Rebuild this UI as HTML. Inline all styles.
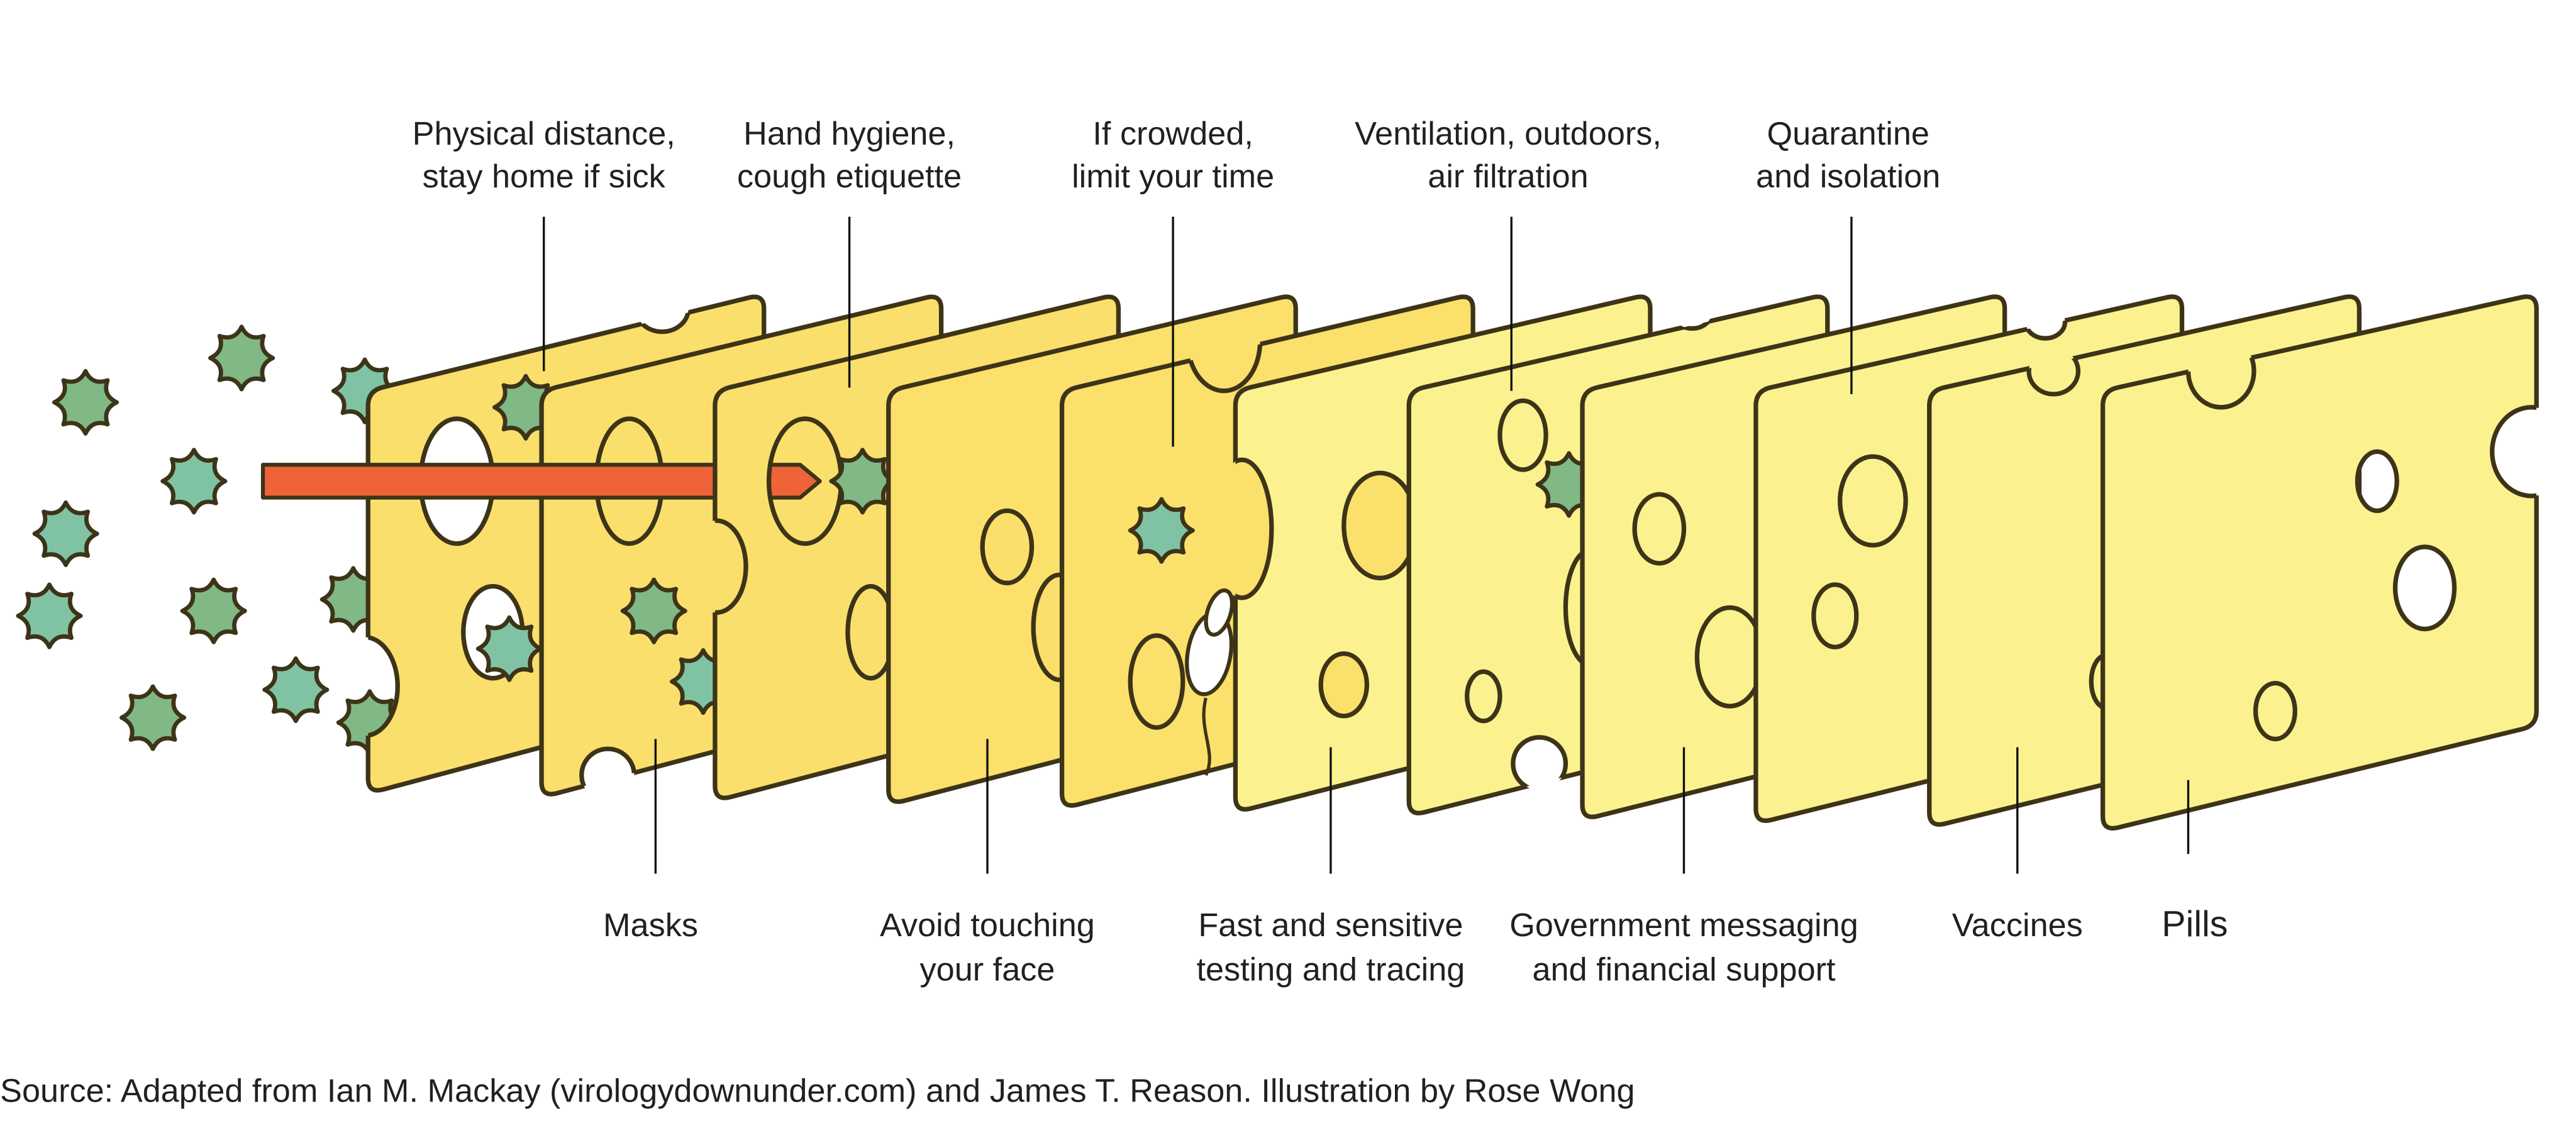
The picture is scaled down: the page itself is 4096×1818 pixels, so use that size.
<!DOCTYPE html>
<html><head><meta charset="utf-8"><style>
html,body{margin:0;padding:0;background:#fff;width:4096px;height:1818px;overflow:hidden}
svg{display:block}
text{font-family:"Liberation Sans",sans-serif;fill:#231f20;font-size:20px}
</style></head><body>
<svg id="s" xmlns="http://www.w3.org/2000/svg" width="4096" height="1818" viewBox="0 0 1568 696">
<defs id="d"></defs>
<g id="g"></g>
<g id="t">
<g text-anchor="middle">
<text x="331" y="88">Physical distance,</text><text x="331" y="114">stay home if sick</text>
<text x="517" y="88">Hand hygiene,</text><text x="517" y="114">cough etiquette</text>
<text x="714" y="88">If crowded,</text><text x="714" y="114">limit your time</text>
<text x="918" y="88">Ventilation, outdoors,</text><text x="918" y="114">air filtration</text>
<text x="1125" y="88">Quarantine</text><text x="1125" y="114">and isolation</text>
<text x="396" y="570">Masks</text>
<text x="601" y="570">Avoid touching</text><text x="601" y="597">your face</text>
<text x="810" y="570">Fast and sensitive</text><text x="810" y="597">testing and tracing</text>
<text x="1025" y="570">Government messaging</text><text x="1025" y="597">and financial support</text>
<text x="1228" y="570">Vaccines</text>
<text x="1336" y="570" style="font-size:22px">Pills</text>
</g>
<text x="0" y="671">Source: Adapted from Ian M. Mackay (virologydownunder.com) and James T. Reason. Illustration by Rose Wong</text>
<g stroke="#111" stroke-width="1.3">
<line x1="331" y1="132" x2="331" y2="226"/><line x1="517" y1="132" x2="517" y2="236"/>
<line x1="714" y1="132" x2="714" y2="272"/><line x1="920" y1="132" x2="920" y2="238"/>
<line x1="1127" y1="132" x2="1127" y2="240"/>
<line x1="399" y1="450" x2="399" y2="532"/><line x1="601" y1="450" x2="601" y2="532"/>
<line x1="810" y1="455" x2="810" y2="532"/><line x1="1025" y1="455" x2="1025" y2="532"/>
<line x1="1228" y1="455" x2="1228" y2="532"/><line x1="1332" y1="475" x2="1332" y2="520"/>
</g></g>
</svg>
<script>
const NS="http://www.w3.org/2000/svg",D=document.getElementById('d'),G=document.getElementById('g');
const SK="#3d3418";
function el(t,a,p){const e=document.createElementNS(NS,t);for(const k in a)e.setAttribute(k,a[k]);(p||G).appendChild(e);return e;}
function star(cx,cy,fill,p){let d="";const P=(a,r)=>(cx+r*Math.cos(a)).toFixed(1)+","+(cy+r*Math.sin(a)).toFixed(1);
 for(let i=0;i<8;i++){const a=i*Math.PI/4-Math.PI/2,b=a+Math.PI/8,c=a+Math.PI/4;
  if(!i)d+="M"+P(a,19);d+=" Q"+P(b,11)+" "+P(c,19);}
 el('path',{d:d+"Z",fill:fill,stroke:SK,'stroke-width':2.6,'stroke-linejoin':'round'},p);}
const GR="#80b886",TE="#7fc3a4";
const slices=[
 {c:"#fadf6c",h:[[278,293,22,38],[300,385,18,28],[222,418,20,30],[403,188,16,14]]},
 {c:"#fadf6c",h:[[383,293,20,38],[370,472,16,16]]},
 {c:"#fadf6c",h:[[490,293,22,38],[436,345,18,28],[530,385,14,28]]},
 {c:"#fbe06c",h:[[613,333,15,22],[645,382,16,32]]},
 {c:"#fbe06b",h:[[745,208,22,30],[704,415,16,28]]},
 {c:"#fbf28f",h:[[840,320,22,32],[818,417,14,19],[756,322,18,42]]},
 {c:"#fbf28f",h:[[927,265,14,21],[903,424,10,15],[937,465,16,16],[1030,190,12,10],[968,370,15,35]]},
 {c:"#fbf28f",h:[[1010,322,15,21],[1053,400,20,30]]},
 {c:"#fbf28f",h:[[1140,305,20,27],[1117,375,13,19],[1245,196,12,10]]},
 {c:"#fbf28f",h:[[1250,226,15,14],[1282,415,9,16]]},
 {c:"#fbf28f",h:[[1352,226,20,22],[1541,275,24,27],[1447,293,12,18],[1476,358,18,25],[1385,433,12,17]]}
];
const layers={"-1":[],0:[],1:[],2:[],4:[],6:[]};
[[147,218,GR],[52,245,GR],[118,293,TE],[40,325,TE],[130,372,GR],[30,375,TE],[93,437,GR],[180,420,TE],[222,238,TE],[215,365,GR],[225,440,GR]].forEach(v=>layers[-1].push(v));
layers[0].push([320,248,GR],[310,395,TE]);
layers[1].push([398,372,GR],[428,415,TE],"arrow");
layers[2].push([525,293,GR]);
layers[4].push([707,323,TE],"mouse");
layers[6].push([955,295,GR]);
function drawLayer(k){(layers[k]||[]).forEach(v=>{
 if(v==="arrow"){el('path',{d:"M160,283 L487,283 L499,293 L487,303 L160,303 Z",fill:"#ee6338",stroke:SK,'stroke-width':2.4,'stroke-linejoin':'round'});}
 else if(v==="mouse"){el('path',{d:"M734,425 C729,445 741,458 734,472",fill:"none",stroke:SK,'stroke-width':2});
  el('ellipse',{cx:736,cy:398,rx:13,ry:25,fill:"#fff",stroke:SK,'stroke-width':2.4,transform:"rotate(10 736 398)"});
  el('ellipse',{cx:742,cy:373,rx:7,ry:14,fill:"#fff",stroke:SK,'stroke-width':2.4,transform:"rotate(18 742 373)"});}
 else star(v[0],v[1],v[2]);});}
drawLayer(-1);
slices.forEach((s,i)=>{
 const L=224+i*105.6,W=241+i*2.3,R=L+W,T1=238,T2=179,B1=483+i*2.3,B2=B1-64,r=9,sl=(T1-T2)/W;
 const d=`M${L},${T1+r} Q${L},${T1} ${L+r},${T1-sl*r} L${R-r},${T2+sl*r} Q${R},${T2} ${R},${T2+r} L${R},${B2-r} Q${R},${B2} ${R-r},${B2+sl*r} L${L+r},${B1-sl*r} Q${L},${B1} ${L},${B1-r} Z`;
 const cp=el('clipPath',{id:'c'+i},D);el('path',{d:d},cp);
 const m=el('mask',{id:'m'+i,maskUnits:'userSpaceOnUse',x:0,y:0,width:1568,height:696},D);
 el('rect',{x:0,y:0,width:1568,height:696,fill:'#fff'},m);
 s.h.forEach(h=>el('ellipse',{cx:h[0],cy:h[1],rx:h[2],ry:h[3],fill:'#000'},m));
 const g1=el('g',{mask:`url(#m${i})`});
 el('path',{d:d,fill:s.c,stroke:SK,'stroke-width':2.8,'stroke-linejoin':'round'},g1);
 const g2=el('g',{'clip-path':`url(#c${i})`});
 s.h.forEach(h=>el('ellipse',{cx:h[0],cy:h[1],rx:h[2],ry:h[3],fill:'none',stroke:SK,'stroke-width':2.8},g2));
 drawLayer(i);
});
</script>
</body></html>
